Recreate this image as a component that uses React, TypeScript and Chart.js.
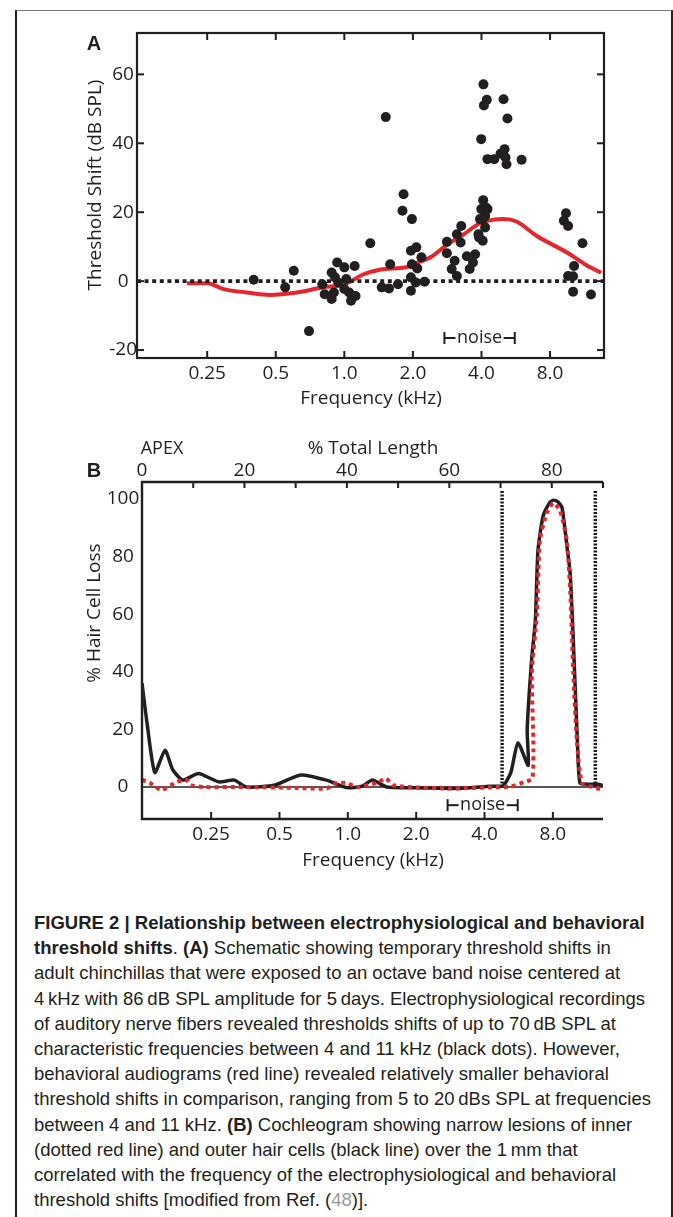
import React, { useEffect, useRef } from "react";
import { Chart, registerables } from "chart.js";
Chart.register(...registerables);

const INK = "#231f20";
const RED = "#e6262c";
const FONT = "'Open Sans', 'Noto Sans', sans-serif";
const CAPTION_FONT = "'Liberation Sans', Arial, sans-serif";

// ---------------- Panel A data ----------------
const freqRangeA = [0.123, 13.8];
const shiftRangeA = [-22.3, 72];
const freqTicks = [0.25, 0.5, 1, 2, 4, 8];
const freqTickLabels = ["0.25", "0.5", "1.0", "2.0", "4.0", "8.0"];
const shiftTicks = [-20, 0, 20, 40, 60];

// electrophysiology: fiber characteristic frequency (kHz)
const fiberFreq = [
  0.40, 0.55, 0.60, 0.70, 0.80, 0.82, 0.88, 0.88, 0.93, 0.91,
  0.90, 0.94, 1.00, 1.02, 1.00, 1.05, 1.07, 1.11, 1.12, 1.30,
  1.52, 1.46, 1.59, 1.57, 1.72, 1.82, 1.80, 1.98, 1.96, 2.07,
  1.98, 2.09, 1.96, 1.96, 2.06, 2.18, 2.25, 2.82, 2.82, 3.12,
  3.26, 3.24, 3.05, 2.96, 3.12, 3.45, 3.75, 3.67, 3.55, 3.94,
  3.99, 4.07, 4.18, 4.25, 4.15, 4.05, 3.88, 4.15, 3.90, 4.05,
  3.99, 4.08, 4.10, 4.22, 5.00, 5.20, 4.25, 4.55, 4.85, 5.05,
  5.10, 5.15, 6.00, 9.4, 9.2, 9.6, 11.1, 10.2, 9.6, 10.1,
  10.1, 12.1,
];
// threshold shift (dB SPL)
const fiberShift = [
  0.4, -1.8, 3.0, -14.5, -0.9, -3.8, 2.5, -5.2, 5.4, 1.1,
  -3.3, -0.4, 4.0, 0.6, -2.3, -3.3, -5.7, 4.4, -4.3, 11.0,
  47.6, -1.8, 4.9, -2.1, -0.9, 25.2, 20.4, 18.0, 8.8, 9.8,
  4.9, 3.7, 1.1, -2.8, -0.4, 6.9, -0.2, 11.4, 8.1, 13.6,
  16.0, 11.2, 5.9, 3.5, 1.5, 7.2, 7.8, 5.4, 3.5, 18.0,
  20.9, 23.5, 21.4, 20.9, 18.9, 18.0, 13.6, 15.6, 12.7, 11.7,
  41.2, 57.1, 51.0, 52.6, 52.8, 47.2, 35.4, 35.4, 37.0, 38.3,
  35.9, 33.9, 35.2, 19.7, 17.5, 16.0, 11.0, 4.4, 1.5, 1.4,
  -3.1, -3.9,
];
// behavioral audiogram
const audioFreq = [
  0.204, 0.25, 0.295, 0.373, 0.472, 0.619, 0.81, 1.0, 1.215, 1.43,
  1.94, 2.02, 2.4, 2.88, 3.26, 3.94, 4.5, 5.0, 5.7, 7.0, 9.5, 12.0, 13.4,
];
const audioShift = [
  -0.6, -0.6, -2.3, -3.3, -4.0, -3.3, -1.8, -1.0, 2.0, 3.3,
  4.3, 4.9, 7.0, 11.0, 13.1, 16.8, 17.8, 18.0, 17.3, 13.1, 8.3, 4.0, 2.5,
];
const noiseBand = [2.75, 5.6];
const noiseLevelA = -16.5;

// ---------------- Panel B data ----------------
const lengthRange = [0, 90];
const lengthTicks = [0, 10, 20, 30, 40, 50, 60, 70, 80, 90];
const lengthLabels = [0, 20, 40, 60, 80];
const freqRangeB = [0.124, 13.3];
const lossRange = [-11.1, 105.9];
const lossTicks = [0, 20, 40, 60, 80, 100];
// outer hair cells (black line)
const ohcPct = [
  0, 1, 2.5, 4.5, 6, 8, 11, 15, 18, 20.4, 26, 31, 36, 40, 43, 45, 47.8, 55, 62, 68,
  70.5, 72, 73.4, 75.4, 75.2, 76.1, 76.8, 77.3, 78.3, 79.5, 80.3, 81.2, 82, 83, 83.6,
  84.2, 85, 85.5, 87, 89, 90,
];
const ohcLoss = [
  36, 22, 5, 12.8, 6, 2.4, 4.7, 1.8, 2.4, 0, 0.7, 4.2, 2.4, -0.2, 0.3, 2.4, 0, -0.3, -0.5, 0.3,
  0.5, 5, 15.3, 7.5, 20, 45, 58, 82, 94, 98.5, 99.6, 99, 97, 83, 74,
  51, 16, 1.4, 1, 1, 0.5,
];
// inner hair cells (dotted red line)
const ihcPct = [
  0, 1.5, 3.8, 6.8, 8.7, 9.5, 12, 20, 30, 36, 38, 40, 42, 46, 47.6, 49, 52, 60, 70, 72,
  74.5, 76.2, 76.4, 76.1, 77.1, 77.7, 79, 80.3, 81.6, 82.9, 83.6, 84.2, 84.9, 85.9, 88, 90,
];
const ihcLoss = [
  2.5, 1.5, -1, 1.8, 2.4, 0.7, 0, 0, -0.3, -0.5, 1.4, 1.4, 0, 1.5, 3, 0.7, 0, -0.5, 0, 0.2,
  1.6, 3, 16, 39.5, 60, 86, 95, 98.6, 96, 86, 68, 39.5, 16, 1.4, 0, -1,
];
const noiseEdgePct = [70.3, 88.5];
const noiseEdgeTop = 103;
const noiseLevelB = -6.3;

// ---------------- helpers ----------------
function seg(ctx: CanvasRenderingContext2D, x1: number, y1: number, x2: number, y2: number) {
  ctx.beginPath();
  ctx.moveTo(x1, y1);
  ctx.lineTo(x2, y2);
  ctx.stroke();
}

function drawNoise(ctx: CanvasRenderingContext2D, xs: any, ys: any, band: number[], level: number) {
  const xl = xs.getPixelForValue(band[0]);
  const xr = xs.getPixelForValue(band[1]);
  const y = ys.getPixelForValue(level);
  ctx.font = `18px ${FONT}`;
  const w = ctx.measureText("noise").width;
  const xm = (xl + xr) / 2;
  ctx.lineWidth = 2;
  seg(ctx, xl, y - 6, xl, y + 6);
  seg(ctx, xr, y - 6, xr, y + 6);
  seg(ctx, xl, y, xm - w / 2 - 1.5, y);
  seg(ctx, xm + w / 2 + 1.5, y, xr, y);
  ctx.textAlign = "center";
  ctx.textBaseline = "alphabetic";
  ctx.fillText("noise", xm, y + 5);
}

const tickFont = { family: FONT, size: 19 };
const noGrid = { display: false, drawTicks: false };
const noBorder = { display: false };

function freqLabel(v: any) {
  const i = freqTicks.indexOf(Number(v));
  return i >= 0 ? freqTickLabels[i] : "";
}

const frameA = {
  id: "frameA",
  afterDatasetsDraw(chart: any) {
    const { ctx, chartArea: a, scales } = chart;
    const xs = scales.x;
    const ys = scales.y;
    ctx.save();
    ctx.strokeStyle = INK;
    ctx.fillStyle = INK;
    ctx.lineWidth = 2.2;
    ctx.strokeRect(a.left, a.top, a.right - a.left, a.bottom - a.top);
    ctx.lineWidth = 2;
    for (const v of freqTicks) {
      const p = xs.getPixelForValue(v);
      seg(ctx, p, a.bottom, p, a.bottom - 7);
      seg(ctx, p, a.top, p, a.top + 7);
    }
    for (const v of shiftTicks) {
      const p = ys.getPixelForValue(v);
      seg(ctx, a.left, p, a.left + 7, p);
      seg(ctx, a.right, p, a.right - 7, p);
    }
    drawNoise(ctx, xs, ys, noiseBand, noiseLevelA);
    ctx.restore();
  },
};

const frameB = {
  id: "frameB",
  afterDatasetsDraw(chart: any) {
    const { ctx, chartArea: a, scales } = chart;
    const xs = scales.x;
    const xf = scales.x2;
    const ys = scales.y;
    ctx.save();
    ctx.strokeStyle = INK;
    ctx.fillStyle = INK;
    ctx.lineWidth = 2.4;
    ctx.beginPath();
    ctx.moveTo(a.right, a.top);
    ctx.lineTo(a.left, a.top);
    ctx.lineTo(a.left, a.bottom);
    ctx.lineTo(a.right, a.bottom);
    ctx.stroke();
    ctx.lineWidth = 2;
    for (const v of lengthTicks) {
      const p = xs.getPixelForValue(v);
      seg(ctx, p, a.top, p, a.top + 6);
    }
    for (const v of freqTicks) {
      const p = xf.getPixelForValue(v);
      seg(ctx, p, a.bottom, p, a.bottom - 7);
    }
    drawNoise(ctx, xf, ys, noiseBand, noiseLevelB);
    ctx.restore();
  },
};

function makeA(): any {
  return {
    type: "line",
    data: {
      datasets: [
        {
          label: "fibers",
          data: fiberFreq.map((f, i) => ({ x: f, y: fiberShift[i] })),
          showLine: false,
          pointRadius: 5,
          pointBackgroundColor: INK,
          pointBorderColor: INK,
          pointBorderWidth: 0,
          borderColor: INK,
          backgroundColor: INK,
          order: 0,
        },
        {
          label: "zero",
          data: freqRangeA.map((f) => ({ x: f, y: 0 })),
          borderColor: INK,
          backgroundColor: INK,
          borderWidth: 3.8,
          borderDash: [4, 3.6],
          pointRadius: 0,
          order: 1,
        },
        {
          label: "audiogram",
          data: audioFreq.map((f, i) => ({ x: f, y: audioShift[i] })),
          borderColor: RED,
          backgroundColor: RED,
          borderWidth: 4,
          pointRadius: 0,
          cubicInterpolationMode: "monotone",
          order: 2,
        },
      ],
    },
    options: {
      responsive: false,
      animation: false,
      devicePixelRatio: 1,
      events: [],
      layout: { padding: { left: 0, right: 26, top: 13, bottom: 0 } },
      plugins: { legend: { display: false }, tooltip: { enabled: false } },
      scales: {
        x: {
          type: "logarithmic",
          position: "bottom",
          min: freqRangeA[0],
          max: freqRangeA[1],
          grid: noGrid,
          border: noBorder,
          afterBuildTicks: (s: any) => {
            s.ticks = freqTicks.map((v) => ({ value: v }));
          },
          afterFit: (s: any) => {
            s.height = 62;
          },
          ticks: { font: tickFont, color: INK, padding: 4, autoSkip: false, maxRotation: 0, callback: freqLabel },
        },
        y: {
          type: "linear",
          position: "left",
          min: shiftRangeA[0],
          max: shiftRangeA[1],
          grid: noGrid,
          border: noBorder,
          afterBuildTicks: (s: any) => {
            s.ticks = shiftTicks.map((v) => ({ value: v }));
          },
          afterFit: (s: any) => {
            s.width = 97;
          },
          ticks: { font: tickFont, color: INK, padding: 0, crossAlign: "center", callback: (v: any) => String(v) },
        },
      },
    },
    plugins: [frameA],
  };
}

function makeB(): any {
  return {
    type: "line",
    data: {
      datasets: [
        {
          label: "IHC",
          data: ihcPct.map((p, i) => ({ x: p, y: ihcLoss[i] })),
          borderColor: RED,
          backgroundColor: RED,
          borderWidth: 4,
          borderDash: [4, 4],
          tension: 0.2,
          pointRadius: 0,
          order: 0,
        },
        {
          label: "OHC",
          data: ohcPct.map((p, i) => ({ x: p, y: ohcLoss[i] })),
          borderColor: INK,
          backgroundColor: INK,
          borderWidth: 3.5,
          tension: 0.2,
          pointRadius: 0,
          order: 1,
        },
        {
          label: "zero",
          data: lengthRange.map((p) => ({ x: p, y: 0 })),
          borderColor: INK,
          backgroundColor: INK,
          borderWidth: 1.6,
          pointRadius: 0,
          order: 2,
        },
        ...noiseEdgePct.map((p) => ({
          label: "edge",
          data: [
            { x: p, y: 0 },
            { x: p, y: noiseEdgeTop },
          ],
          borderColor: "#1e1e1e",
          backgroundColor: "#1e1e1e",
          borderWidth: 3.5,
          borderDash: [2, 1.5],
          pointRadius: 0,
          order: 3,
        })),
      ],
    },
    options: {
      responsive: false,
      animation: false,
      devicePixelRatio: 1,
      events: [],
      layout: { padding: { left: 0, right: 27, top: 0, bottom: 0 } },
      plugins: { legend: { display: false }, tooltip: { enabled: false } },
      scales: {
        x: {
          type: "linear",
          position: "top",
          min: lengthRange[0],
          max: lengthRange[1],
          grid: noGrid,
          border: noBorder,
          afterBuildTicks: (s: any) => {
            s.ticks = lengthTicks.map((v) => ({ value: v }));
          },
          afterFit: (s: any) => {
            s.height = 57;
          },
          ticks: {
            font: tickFont,
            color: INK,
            padding: 0,
            autoSkip: false,
            maxRotation: 0,
            callback: (v: any) => (lengthLabels.indexOf(Number(v)) >= 0 ? String(v) : ""),
          },
        },
        x2: {
          type: "logarithmic",
          position: "bottom",
          min: freqRangeB[0],
          max: freqRangeB[1],
          grid: noGrid,
          border: noBorder,
          afterBuildTicks: (s: any) => {
            s.ticks = freqTicks.map((v) => ({ value: v }));
          },
          afterFit: (s: any) => {
            s.height = 61;
          },
          ticks: { font: tickFont, color: INK, padding: 4, autoSkip: false, maxRotation: 0, callback: freqLabel },
        },
        y: {
          type: "linear",
          position: "left",
          min: lossRange[0],
          max: lossRange[1],
          grid: noGrid,
          border: noBorder,
          afterBuildTicks: (s: any) => {
            s.ticks = lossTicks.map((v) => ({ value: v }));
          },
          afterFit: (s: any) => {
            s.width = 102;
          },
          ticks: { font: tickFont, color: INK, padding: 2.7, crossAlign: "center", callback: (v: any) => String(v) },
        },
      },
    },
    plugins: [frameB],
  };
}

function ChartBox(props: { left: number; top: number; width: number; height: number; make: () => any }) {
  const ref = useRef<HTMLCanvasElement>(null);
  useEffect(() => {
    const chart = new Chart(ref.current as HTMLCanvasElement, props.make());
    return () => chart.destroy();
  }, []);
  return (
    <canvas
      ref={ref}
      width={props.width}
      height={props.height}
      style={{ position: "absolute", left: props.left, top: props.top, width: props.width, height: props.height }}
    />
  );
}

function Txt(props: {
  x: number;
  y: number;
  children: React.ReactNode;
  size?: number;
  bold?: boolean;
  rotate?: boolean;
  family?: string;
}) {
  return (
    <div
      style={{
        position: "absolute",
        left: props.x,
        top: props.y,
        transform: `translate(-50%, -50%)${props.rotate ? " rotate(-90deg)" : ""}`,
        fontFamily: props.family || FONT,
        fontSize: props.size || 19,
        fontWeight: props.bold ? 700 : 400,
        lineHeight: 1,
        whiteSpace: "nowrap",
        color: INK,
      }}
    >
      {props.children}
    </div>
  );
}

const T = "\u2009";

export default function App() {
  return (
    <div style={{ position: "absolute", left: 0, top: 0, width: 673, height: 1217, background: "#fff", overflow: "hidden" }}>
      <div
        style={{
          position: "absolute",
          left: 15,
          top: 10,
          width: 658,
          height: 1207,
          boxSizing: "border-box",
          borderTop: "1px solid #777",
          borderLeft: "2px solid #222",
          borderRight: "2px solid #222",
        }}
      />
      <ChartBox left={40} top={20} width={590} height={400} make={makeA} />
      <ChartBox left={40} top={425} width={590} height={455} make={makeB} />

      <Txt x={94} y={43} size={20} bold family={CAPTION_FONT}>A</Txt>
      <Txt x={94} y={185} rotate>Threshold Shift (dB SPL)</Txt>
      <Txt x={371} y={397}>Frequency (kHz)</Txt>

      <Txt x={94} y={470} size={20} bold family={CAPTION_FONT}>B</Txt>
      <Txt x={162} y={447} size={18}>APEX</Txt>
      <Txt x={373} y={447}>% Total Length</Txt>
      <Txt x={93} y={613} rotate>% Hair Cell Loss</Txt>
      <Txt x={373} y={859}>Frequency (kHz)</Txt>

      <div
        style={{
          position: "absolute",
          left: 34,
          top: 910,
          fontFamily: CAPTION_FONT,
          fontSize: 18.5,
          lineHeight: "25.2px",
          color: INK,
          whiteSpace: "nowrap",
        }}
      >
        <div>
          <b>FIGURE 2 | Relationship between electrophysiological and behavioral</b>
        </div>
        <div>
          <b>threshold shifts</b>. <b>(A)</b> Schematic showing temporary threshold shifts in
        </div>
        <div>adult chinchillas that were exposed to an octave band noise centered at</div>
        <div>
          4{T}kHz with 86{T}dB SPL amplitude for 5{T}days. Electrophysiological recordings
        </div>
        <div>of auditory nerve fibers revealed thresholds shifts of up to 70{T}dB SPL at</div>
        <div>characteristic frequencies between 4 and 11 kHz (black dots). However,</div>
        <div>behavioral audiograms (red line) revealed relatively smaller behavioral</div>
        <div>threshold shifts in comparison, ranging from 5 to 20{T}dBs SPL at frequencies</div>
        <div>
          between 4 and 11 kHz. <b>(B)</b> Cochleogram showing narrow lesions of inner
        </div>
        <div>(dotted red line) and outer hair cells (black line) over the 1{T}mm that</div>
        <div>correlated with the frequency of the electrophysiological and behavioral</div>
        <div>
          threshold shifts [modified from Ref. (<span style={{ color: "#9a9a9a" }}>48</span>)].
        </div>
      </div>
    </div>
  );
}
